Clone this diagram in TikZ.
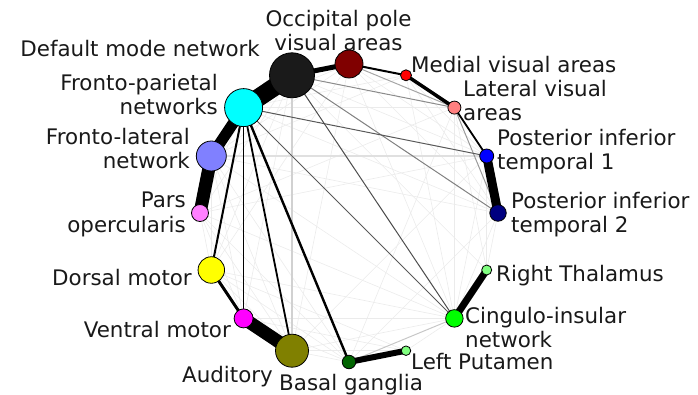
\documentclass[tikz,border=0pt]{standalone}
\usepackage{fontspec}
\setmainfont{DejaVu Sans}
\pgfdeclarelayer{bg}
\pgfsetlayers{bg,main}
\definecolor{cDmn}{HTML}{1A1A1A}
\definecolor{cOcc}{HTML}{800000}
\definecolor{cMed}{HTML}{FF0000}
\definecolor{cLat}{HTML}{FF8080}
\definecolor{cPitA}{HTML}{0000FF}
\definecolor{cPitB}{HTML}{000080}
\definecolor{cRt}{HTML}{80FF80}
\definecolor{cCin}{HTML}{00FF00}
\definecolor{cLp}{HTML}{80FF80}
\definecolor{cBg}{HTML}{006400}
\definecolor{cAud}{HTML}{808000}
\definecolor{cVm}{HTML}{FF00FF}
\definecolor{cDm}{HTML}{FFFF00}
\definecolor{cPo}{HTML}{FF80FF}
\definecolor{cFl}{HTML}{8080FF}
\definecolor{cFp}{HTML}{00FFFF}
\begin{document}
\begin{tikzpicture}[x=1pt,y=-1pt,
  nd/.style={circle,draw=black,line width=0.8pt,inner sep=0pt,minimum size=#1},
  lab/.style={inner sep=0pt,font=\fontsize{21.4}{24.5}\selectfont,text=black!90},
  strong/.style={line width=#1,black},
  mid/.style={line width=1pt,black!#1},
  faint/.style={line width=0.6pt,black!8},
]
\useasboundingbox (0,0) rectangle (698,395);
% nodes
\node[nd=28pt,fill=cOcc]  (occ)  at (349,64) {};
\node[nd=11pt,fill=cMed]  (med)  at (406.0,75.3) {};
\node[nd=13pt,fill=cLat]  (lat)  at (454.4,107.6) {};
\node[nd=14pt,fill=cPitA] (pita) at (486.7,156.0) {};
\node[nd=16.5pt,fill=cPitB] (pitb) at (498,213) {};
\node[nd=10pt,fill=cRt]   (rt)   at (486.7,270.0) {};
\node[nd=17.5pt,fill=cCin] (cin) at (454.4,318.4) {};
\node[nd=9.5pt,fill=cLp]  (lp)   at (406.0,350.7) {};
\node[nd=13.5pt,fill=cBg] (bg)   at (349,362) {};
\node[nd=33pt,fill=cAud]  (aud)  at (292.0,350.7) {};
\node[nd=19pt,fill=cVm]   (vm)   at (243.6,318.4) {};
\node[nd=26.5pt,fill=cDm] (dm)   at (211.3,270.0) {};
\node[nd=17pt,fill=cPo]   (po)   at (200,213) {};
\node[nd=30pt,fill=cFl]   (fl)   at (211.3,156.0) {};
\node[nd=38pt,fill=cFp]   (fp)   at (243.6,107.6) {};
\node[nd=45pt,fill=cDmn]  (dmn)  at (292.0,75.3) {};
% labels
\node[lab,align=center,anchor=north] (tOcc) at (338.5,10) {Occipital pole\\visual areas};
\node[lab,anchor=base east] (tDmn) at (260,57) {Default mode network};
\node[lab,align=right,anchor=north east] (tFp) at (218,74) {Fronto-parietal\\networks};
\node[lab,align=right,anchor=north east] (tFl) at (190,128) {Fronto-lateral\\network};
\node[lab,align=right,anchor=north east] (tPo) at (186,192) {Pars\\opercularis};
\node[lab,anchor=base east] (tDm) at (192,285) {Dorsal motor};
\node[lab,anchor=base east] (tVm) at (231,337) {Ventral motor};
\node[lab,anchor=base east] (tAud) at (273,382) {Auditory};
\node[lab,anchor=base west] (tBg) at (279,390) {Basal ganglia};
\node[lab,anchor=base west] (tLp) at (411,369) {Left Putamen};
\node[lab,align=left,anchor=north west] (tCin) at (465,307) {Cingulo-insular\\network};
\node[lab,anchor=base west] (tRt) at (496,281) {Right Thalamus};
\node[lab,align=left,anchor=north west] (tPitb) at (511,192) {Posterior inferior\\temporal 2};
\node[lab,align=left,anchor=north west] (tPita) at (497,129) {Posterior inferior\\temporal 1};
\node[lab,align=left,anchor=north west] (tLat) at (463,80) {Lateral visual\\areas};
\node[lab,anchor=base west] (tMed) at (411,73) {Medial visual areas};
% edges
\begin{pgfonlayer}{bg}
% faint background connections
\foreach \a/\b in {fl/dm,fl/vm,fl/aud,po/dm,po/vm,po/aud,dm/aud,dm/bg,fp/po,dmn/dm,dmn/fl,
  occ/pita,occ/pitb,med/pita,med/pitb,lat/cin,pita/cin,pitb/cin,pitb/rt,cin/lp,cin/aud,
  bg/aud,bg/vm,lp/aud,fl/cin,po/cin,dm/cin,vm/cin,fp/pitb,fl/pitb,po/pita,dmn/pita,
  occ/fp,occ/fl,med/fp,lat/fp,dmn/po,occ/cin,med/cin,lat/rt,pita/rt,dm/lp,vm/lp,
  fl/bg,po/bg,dmn/vm,occ/aud,lat/bg,pitb/bg,pita/aud,dmn/rt,occ/dm,lat/po,med/fl}
  {\draw[faint] (\a.center) -- (\b.center);}
\draw[line width=1.8pt,black!18] (dmn.center) -- (aud.center);
\draw[line width=1.4pt,black!12] (fl.center) -- (pita.center);
\draw[mid=22] (cin.center) -- (bg.center);
\draw[mid=35] (occ.center) -- (lat.center);
\draw[mid=40] (lat.center) -- (pitb.center);
\draw[mid=45] (dmn.center) -- (lat.center);
\draw[mid=50] (dmn.center) -- (pitb.center);
\draw[mid=65] (fp.center) -- (pita.center);
\draw[mid=65] (fp.center) -- (cin.center);
\draw[mid=70] (dmn.center) -- (cin.center);
% strong connections
\draw[strong=18pt] (dmn.center) -- (fp.center);
\draw[strong=11pt] (fp.center) -- (fl.center);
\draw[strong=13pt] (fl.center) -- (po.center);
\draw[strong=5pt] (dmn.center) -- (occ.center);
\draw[strong=2pt] (occ.center) -- (med.center);
\draw[strong=3.5pt] (med.center) -- (lat.center);
\draw[strong=1.8pt] (lat.center) -- (pita.center);
\draw[strong=9pt] (pita.center) -- (pitb.center);
\draw[strong=7pt] (rt.center) -- (cin.center);
\draw[strong=6pt] (lp.center) -- (bg.center);
\draw[strong=13pt] (aud.center) -- (vm.center);
\draw[strong=3pt] (vm.center) -- (dm.center);
\draw[strong=2pt] (fp.center) -- (dm.center);
\draw[strong=1.2pt] (fp.center) -- (vm.center);
\draw[strong=1.8pt] (fp.center) -- (aud.center);
\draw[strong=2.4pt] (fp.center) -- (bg.center);
\end{pgfonlayer}
\end{tikzpicture}
\end{document}
